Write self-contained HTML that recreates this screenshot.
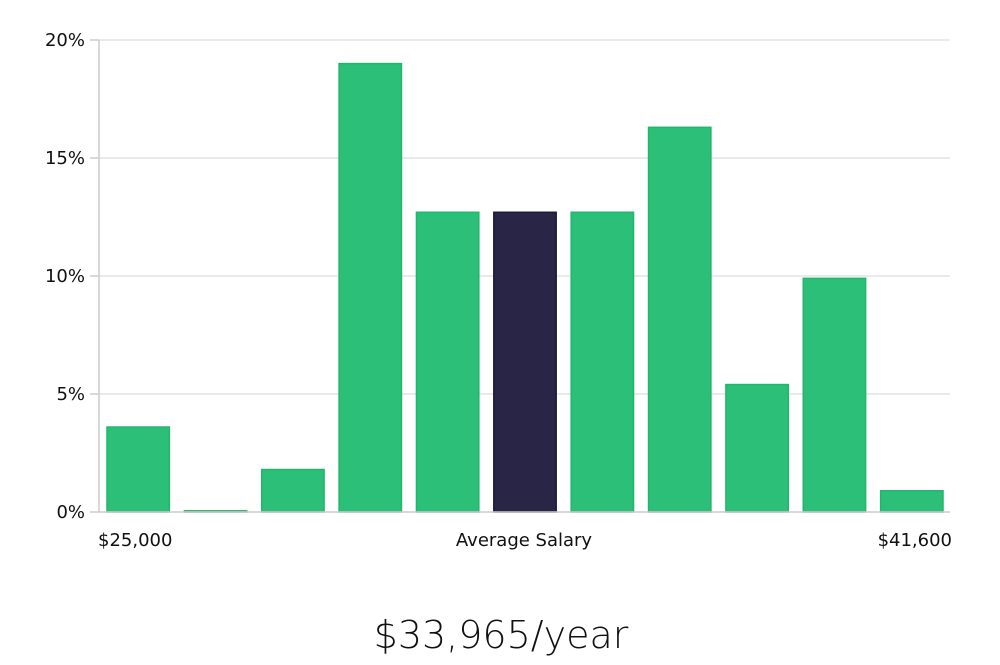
<!DOCTYPE html>
<html><head><meta charset="utf-8"><style>
body{margin:0;background:#fff;width:1000px;height:660px;overflow:hidden}
text{font-family:"DejaVu Sans","Liberation Sans",sans-serif}
</style></head><body>
<svg id="chart" width="1000" height="660">
<g id="grid"></g><g id="bars"></g><g id="axes"></g>
<text x="524" y="546" text-anchor="middle" font-size="18" fill="#111">Average Salary</text>
<text x="98" y="546" font-size="18" fill="#111">$25,000</text>
<text x="952" y="546" text-anchor="end" font-size="18" fill="#111">$41,600</text>
<text x="501" y="648" text-anchor="middle" font-size="38" fill="#111" style="font-family:'DejaVu Sans','Liberation Sans',sans-serif;font-weight:200">$33,965/year</text>
</svg>
<script>
const values = [3.6, 0.05, 1.8, 19.0, 12.7, 12.7, 12.7, 16.3, 5.4, 9.9, 0.9];
const highlightIndex = 5;
const yTicks = [0, 5, 10, 15, 20];
const yTickLabels = ["0%", "5%", "10%", "15%", "20%"];
const NS = "http://www.w3.org/2000/svg";
const x0 = 99, x1 = 950, yBase = 512, yTop = 40, yMax = 20;
const y = v => yBase - (v / yMax) * (yBase - yTop);
const slot = (x1 - x0) / values.length;
function mk(tag, attrs, parent){const e=document.createElementNS(NS,tag);for(const k in attrs)e.setAttribute(k,attrs[k]);parent.appendChild(e);return e;}
const grid=document.getElementById('grid'),bars=document.getElementById('bars'),axes=document.getElementById('axes');
yTicks.forEach((t,i)=>{
  if(t>0){const gl=mk('line',{x1:x0,x2:x1,y1:y(t),y2:y(t),stroke:'#e3e3e3','stroke-width':1.5},grid);
  
  }
  const tk=mk('line',{x1:90,x2:x0,y1:y(t),y2:y(t),stroke:'#ccc','stroke-width':1.5},axes);
  
  
  const lb=mk('text',{x:85,y:y(t)+6,'text-anchor':'end','font-size':18,fill:'#111'},axes);
  lb.textContent=yTickLabels[i];
  
  
});
const ya=mk('line',{x1:x0,x2:x0,y1:yTop,y2:yBase,stroke:'#ccc','stroke-width':1.5},axes);


const xa=mk('line',{x1:x0,x2:x1,y1:yBase,y2:yBase,stroke:'#ccc','stroke-width':1.5},axes);


values.forEach((v,i)=>{
  const hi=i===highlightIndex;
  const bx=x0+i*slot+8, bw=slot-15, top=y(v);
  const r=mk('rect',{x:bx,y:top,width:bw,height:Math.max(yBase-top,1),fill:hi?'#282546':'#2bbf77',stroke:hi?'#1c1a3a':'#22b56d','stroke-width':1.5},bars);
  
  
});
</script>
</body></html>
